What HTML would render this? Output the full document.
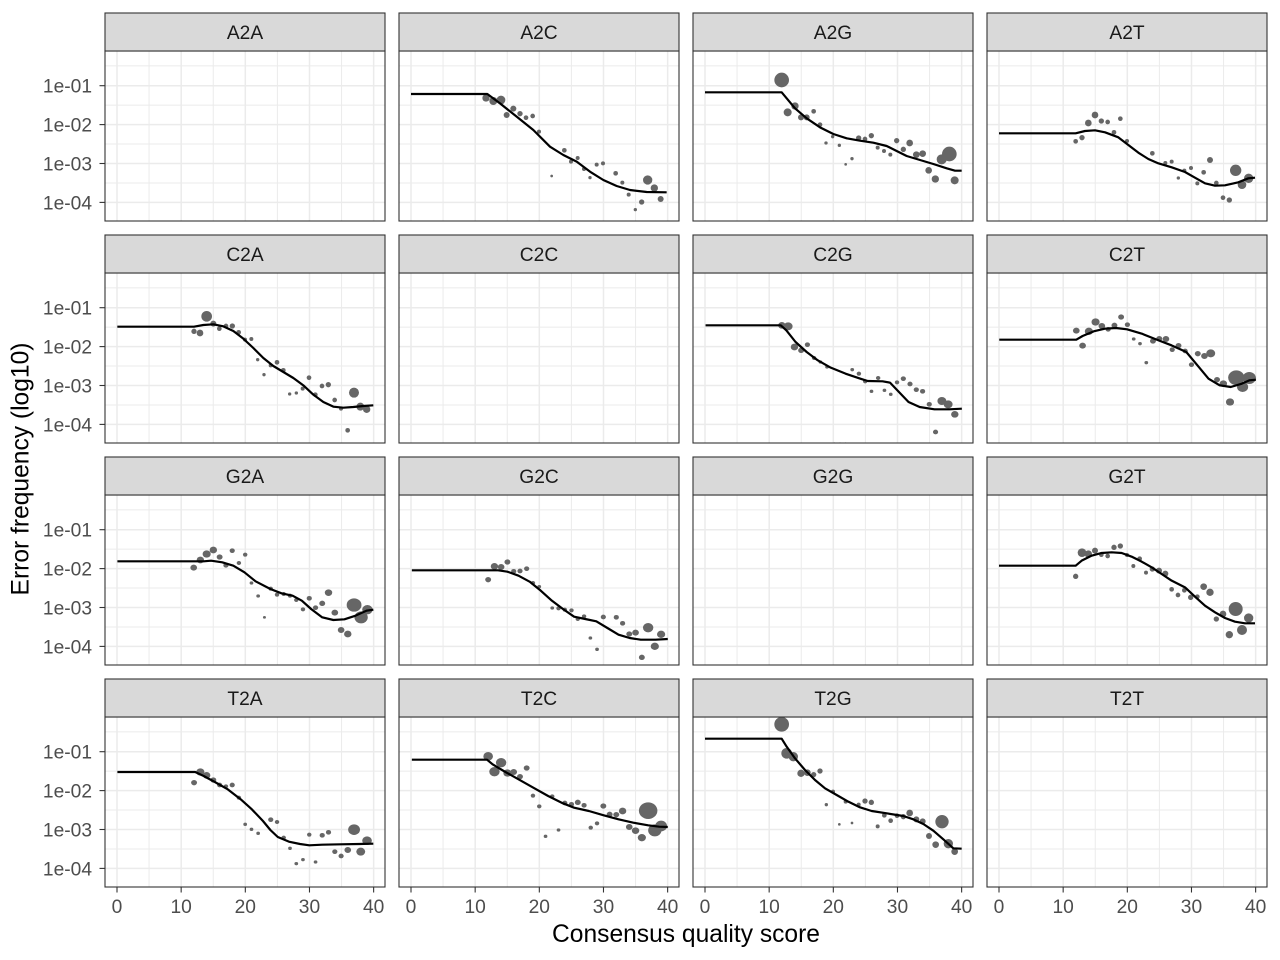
<!DOCTYPE html>
<html>
<head>
<meta charset="utf-8">
<style>
html,body{margin:0;padding:0;background:#fff;}
svg{display:block;}
text{font-family:"Liberation Sans",Arial,sans-serif;}
</style>
</head>
<body>
<svg width="1280" height="960" viewBox="0 0 1280 960" xmlns="http://www.w3.org/2000/svg">
<defs>
  <g id="grid">
    <rect x="0" y="0" width="280" height="170" fill="#fff"/>
    <g stroke="#EBEBEB" stroke-width="1.0">
      <line x1="44.08" y1="0" x2="44.08" y2="170"/>
      <line x1="108.24" y1="0" x2="108.24" y2="170"/>
      <line x1="172.4" y1="0" x2="172.4" y2="170"/>
      <line x1="236.56" y1="0" x2="236.56" y2="170"/>
      <line x1="0" y1="14.9" x2="280" y2="14.9"/>
      <line x1="0" y1="54.15" x2="280" y2="54.15"/>
      <line x1="0" y1="93.05" x2="280" y2="93.05"/>
      <line x1="0" y1="131.95" x2="280" y2="131.95"/>
    </g>
    <g stroke="#EBEBEB" stroke-width="1.5">
      <line x1="12" y1="0" x2="12" y2="170"/>
      <line x1="76.16" y1="0" x2="76.16" y2="170"/>
      <line x1="140.32" y1="0" x2="140.32" y2="170"/>
      <line x1="204.48" y1="0" x2="204.48" y2="170"/>
      <line x1="268.64" y1="0" x2="268.64" y2="170"/>
      <line x1="0" y1="34.7" x2="280" y2="34.7"/>
      <line x1="0" y1="73.6" x2="280" y2="73.6"/>
      <line x1="0" y1="112.5" x2="280" y2="112.5"/>
      <line x1="0" y1="151.4" x2="280" y2="151.4"/>
    </g>
  </g>
  <clipPath id="c01"><rect x="399" y="51" width="280" height="170"/></clipPath>
  <clipPath id="c02"><rect x="693" y="51" width="280" height="170"/></clipPath>
  <clipPath id="c03"><rect x="987" y="51" width="280" height="170"/></clipPath>
  <clipPath id="c10"><rect x="105" y="273" width="280" height="170"/></clipPath>
  <clipPath id="c12"><rect x="693" y="273" width="280" height="170"/></clipPath>
  <clipPath id="c13"><rect x="987" y="273" width="280" height="170"/></clipPath>
  <clipPath id="c20"><rect x="105" y="495" width="280" height="170"/></clipPath>
  <clipPath id="c21"><rect x="399" y="495" width="280" height="170"/></clipPath>
  <clipPath id="c23"><rect x="987" y="495" width="280" height="170"/></clipPath>
  <clipPath id="c30"><rect x="105" y="717" width="280" height="170"/></clipPath>
  <clipPath id="c31"><rect x="399" y="717" width="280" height="170"/></clipPath>
  <clipPath id="c32"><rect x="693" y="717" width="280" height="170"/></clipPath>
</defs>

<rect x="0" y="0" width="1280" height="960" fill="#fff"/>

<!-- panel grids -->
<use href="#grid" x="105" y="51"/><use href="#grid" x="399" y="51"/><use href="#grid" x="693" y="51"/><use href="#grid" x="987" y="51"/>
<use href="#grid" x="105" y="273"/><use href="#grid" x="399" y="273"/><use href="#grid" x="693" y="273"/><use href="#grid" x="987" y="273"/>
<use href="#grid" x="105" y="495"/><use href="#grid" x="399" y="495"/><use href="#grid" x="693" y="495"/><use href="#grid" x="987" y="495"/>
<use href="#grid" x="105" y="717"/><use href="#grid" x="399" y="717"/><use href="#grid" x="693" y="717"/><use href="#grid" x="987" y="717"/>

<!-- A2C -->
<g clip-path="url(#c01)"><g transform="translate(390,40) scale(0.33333)">
<g fill="#666">
<circle cx="288" cy="174" r="11"/><circle cx="310" cy="183" r="12"/><circle cx="333" cy="180" r="13"/><circle cx="350" cy="225" r="9"/><circle cx="370" cy="206" r="9"/><circle cx="390" cy="221" r="8"/><circle cx="408" cy="233" r="7"/><circle cx="428" cy="228" r="7"/><circle cx="447" cy="275" r="6"/><circle cx="485" cy="408" r="4"/><circle cx="523" cy="331" r="7"/><circle cx="543" cy="365" r="6"/><circle cx="563" cy="354" r="6"/><circle cx="582" cy="387" r="6"/><circle cx="600" cy="413" r="5"/><circle cx="620" cy="374" r="6"/><circle cx="639" cy="370" r="6"/><circle cx="677" cy="400" r="7"/><circle cx="697" cy="428" r="6"/><circle cx="716" cy="464" r="6"/><circle cx="736" cy="509" r="5"/><circle cx="755" cy="486" r="8"/><circle cx="773" cy="420" r="14"/><circle cx="793" cy="444" r="11"/><circle cx="812" cy="477" r="9"/>
<circle cx="465" cy="545" r="3"/><circle cx="505" cy="545" r="3"/>
</g>
<polyline fill="none" stroke="#000" stroke-width="2.2" vector-effect="non-scaling-stroke" stroke-linejoin="round" points="63,162 292,162 330,190 380,230 430,270 480,320 520,345 560,365 600,395 640,420 680,438 720,450 770,456 830,457"/>
</g></g>

<!-- A2G -->
<g clip-path="url(#c02)"><g transform="translate(680,40) scale(0.33333)">
<g fill="#666">
<circle cx="305" cy="120" r="22"/><circle cx="345" cy="198" r="11"/><circle cx="323" cy="217" r="12"/><circle cx="363" cy="232" r="9"/><circle cx="380" cy="232" r="9"/><circle cx="401" cy="214" r="7"/><circle cx="420" cy="254" r="7"/><circle cx="438" cy="309" r="5"/><circle cx="458" cy="290" r="5"/><circle cx="478" cy="316" r="5"/><circle cx="497" cy="373" r="4"/><circle cx="516" cy="356" r="5"/><circle cx="536" cy="294" r="8"/><circle cx="555" cy="297" r="7"/><circle cx="574" cy="287" r="8"/><circle cx="593" cy="323" r="6"/><circle cx="612" cy="333" r="6"/><circle cx="631" cy="344" r="6"/><circle cx="650" cy="302" r="8"/><circle cx="670" cy="328" r="8"/><circle cx="689" cy="309" r="10"/><circle cx="709" cy="344" r="10"/><circle cx="728" cy="341" r="10"/><circle cx="746" cy="391" r="10"/><circle cx="766" cy="417" r="11"/><circle cx="785" cy="358" r="15"/><circle cx="808" cy="342" r="22"/><circle cx="824" cy="421" r="12"/>
</g>
<polyline fill="none" stroke="#000" stroke-width="2.2" vector-effect="non-scaling-stroke" stroke-linejoin="round" points="75,157 305,157 320,175 345,205 380,235 420,262 460,282 500,295 540,302 580,308 620,318 650,333 680,348 720,360 760,372 800,385 825,392 845,392"/>
</g></g>

<!-- A2T -->
<g clip-path="url(#c03)"><g transform="translate(985,50) scale(0.33333)">
<g fill="#666">
<circle cx="272" cy="274" r="7"/><circle cx="291" cy="263" r="8"/><circle cx="310" cy="219" r="10"/><circle cx="330" cy="195" r="10"/><circle cx="349" cy="213" r="8"/><circle cx="368" cy="216" r="7"/><circle cx="387" cy="247" r="7"/><circle cx="406" cy="206" r="7"/><circle cx="426" cy="273" r="6"/><circle cx="502" cy="310" r="7"/><circle cx="541" cy="339" r="6"/><circle cx="560" cy="335" r="6"/><circle cx="580" cy="384" r="5"/><circle cx="598" cy="362" r="6"/><circle cx="618" cy="354" r="6"/><circle cx="637" cy="400" r="6"/><circle cx="656" cy="367" r="7"/><circle cx="675" cy="330" r="9"/><circle cx="694" cy="399" r="7"/><circle cx="714" cy="443" r="7"/><circle cx="733" cy="450" r="8"/><circle cx="752" cy="361" r="17"/><circle cx="771" cy="404" r="13"/><circle cx="791" cy="385" r="14"/>
<circle cx="447" cy="516" r="3"/><circle cx="462" cy="516" r="3"/><circle cx="477" cy="516" r="3"/>
</g>
<polyline fill="none" stroke="#000" stroke-width="2.2" vector-effect="non-scaling-stroke" stroke-linejoin="round" points="42,250 272,250 300,243 330,241 360,247 400,262 430,285 460,308 490,327 520,340 560,352 600,366 630,383 660,400 690,407 720,406 760,397 790,385 810,383"/>
</g></g>

<!-- C2A -->
<g clip-path="url(#c10)"><g transform="translate(100,272) scale(0.33333)">
<g fill="#666">
<circle cx="282" cy="178" r="8"/><circle cx="300" cy="183" r="10"/><circle cx="320" cy="133" r="16"/><circle cx="340" cy="155" r="9"/><circle cx="358" cy="170" r="7"/><circle cx="378" cy="162" r="7"/><circle cx="397" cy="162" r="8"/><circle cx="416" cy="181" r="7"/><circle cx="435" cy="203" r="6"/><circle cx="454" cy="201" r="6"/><circle cx="473" cy="263" r="5"/><circle cx="492" cy="308" r="5"/><circle cx="512" cy="280" r="6"/><circle cx="531" cy="271" r="7"/><circle cx="550" cy="295" r="7"/><circle cx="569" cy="366" r="5"/><circle cx="589" cy="363" r="5"/><circle cx="608" cy="350" r="6"/><circle cx="627" cy="317" r="7"/><circle cx="646" cy="368" r="7"/><circle cx="666" cy="342" r="7"/><circle cx="685" cy="338" r="8"/><circle cx="704" cy="384" r="7"/><circle cx="723" cy="410" r="6"/><circle cx="743" cy="475" r="7"/><circle cx="762" cy="362" r="15"/><circle cx="781" cy="404" r="12"/><circle cx="800" cy="412" r="11"/>
</g>
<polyline fill="none" stroke="#000" stroke-width="2.2" vector-effect="non-scaling-stroke" stroke-linejoin="round" points="52,164 282,164 310,159 340,157 370,163 400,177 430,200 460,228 490,258 520,282 550,300 580,318 610,340 640,368 670,390 700,404 730,407 760,405 790,402 820,400"/>
</g></g>

<!-- C2G -->
<g clip-path="url(#c12)"><g transform="translate(690,272) scale(0.37037,0.33333)">
<g fill="#666">
<circle cx="248" cy="160" r="10"/><circle cx="265" cy="163" r="12"/><circle cx="282" cy="225" r="10"/><circle cx="300" cy="235" r="8"/><circle cx="317" cy="218" r="7"/><circle cx="335" cy="258" r="6"/><circle cx="352" cy="270" r="5"/><circle cx="370" cy="285" r="5"/><circle cx="438" cy="293" r="5"/><circle cx="456" cy="305" r="6"/><circle cx="473" cy="328" r="6"/><circle cx="490" cy="358" r="5"/><circle cx="508" cy="318" r="6"/><circle cx="525" cy="355" r="5"/><circle cx="542" cy="367" r="5"/><circle cx="559" cy="331" r="6"/><circle cx="576" cy="320" r="7"/><circle cx="594" cy="336" r="7"/><circle cx="611" cy="353" r="7"/><circle cx="628" cy="358" r="7"/><circle cx="646" cy="397" r="7"/><circle cx="663" cy="480" r="7"/><circle cx="680" cy="387" r="12"/><circle cx="697" cy="397" r="12"/><circle cx="715" cy="427" r="10"/>
<circle cx="390" cy="514" r="3"/><circle cx="405" cy="514" r="3"/><circle cx="420" cy="514" r="3"/>
</g>
<polyline fill="none" stroke="#000" stroke-width="2.2" vector-effect="non-scaling-stroke" stroke-linejoin="round" points="42,160 245,160 260,175 285,210 315,240 345,265 380,287 420,305 460,320 480,327 520,328 540,332 560,355 590,390 620,405 660,412 700,412 734,410"/>
</g></g>

<!-- C2T -->
<g clip-path="url(#c13)"><g transform="translate(690,272) scale(0.37037,0.33333)">
<g fill="#666">
<circle cx="1043" cy="176" r="9"/><circle cx="1060" cy="221" r="9"/><circle cx="1077" cy="178" r="11"/><circle cx="1095" cy="150" r="11"/><circle cx="1112" cy="162" r="9"/><circle cx="1129" cy="172" r="7"/><circle cx="1146" cy="160" r="8"/><circle cx="1164" cy="135" r="8"/><circle cx="1181" cy="158" r="7"/><circle cx="1198" cy="201" r="5"/><circle cx="1215" cy="215" r="5"/><circle cx="1232" cy="272" r="5"/><circle cx="1250" cy="207" r="8"/><circle cx="1267" cy="200" r="8"/><circle cx="1285" cy="201" r="9"/><circle cx="1302" cy="233" r="7"/><circle cx="1319" cy="221" r="8"/><circle cx="1337" cy="237" r="7"/><circle cx="1354" cy="278" r="7"/><circle cx="1371" cy="245" r="8"/><circle cx="1389" cy="252" r="9"/><circle cx="1406" cy="244" r="12"/><circle cx="1423" cy="323" r="8"/><circle cx="1440" cy="335" r="10"/><circle cx="1458" cy="390" r="11"/><circle cx="1475" cy="317" r="22"/><circle cx="1492" cy="345" r="15"/><circle cx="1510" cy="318" r="18"/>
</g>
<polyline fill="none" stroke="#000" stroke-width="2.2" vector-effect="non-scaling-stroke" stroke-linejoin="round" points="835,203 1043,203 1060,192 1090,178 1120,170 1150,168 1180,172 1220,185 1260,203 1300,220 1340,240 1370,280 1400,320 1430,340 1460,345 1490,335 1510,325 1528,323"/>
</g></g>

<!-- G2A -->
<g clip-path="url(#c20)"><g transform="translate(100,494) scale(0.37037,0.33333)">
<g fill="#666">
<circle cx="253" cy="221" r="9"/><circle cx="271" cy="198" r="10"/><circle cx="288" cy="180" r="11"/><circle cx="306" cy="168" r="10"/><circle cx="323" cy="189" r="8"/><circle cx="340" cy="214" r="7"/><circle cx="357" cy="170" r="7"/><circle cx="375" cy="207" r="6"/><circle cx="392" cy="182" r="6"/><circle cx="409" cy="267" r="5"/><circle cx="427" cy="306" r="5"/><circle cx="444" cy="370" r="4"/><circle cx="461" cy="284" r="6"/><circle cx="478" cy="302" r="6"/><circle cx="496" cy="300" r="6"/><circle cx="513" cy="305" r="6"/><circle cx="530" cy="318" r="6"/><circle cx="548" cy="346" r="6"/><circle cx="565" cy="313" r="7"/><circle cx="582" cy="341" r="7"/><circle cx="600" cy="328" r="8"/><circle cx="617" cy="296" r="10"/><circle cx="634" cy="356" r="9"/><circle cx="651" cy="408" r="9"/><circle cx="669" cy="420" r="10"/><circle cx="686" cy="333" r="20"/><circle cx="705" cy="370" r="18"/><circle cx="722" cy="347" r="14"/>
</g>
<polyline fill="none" stroke="#000" stroke-width="2.2" vector-effect="non-scaling-stroke" stroke-linejoin="round" points="47,202 280,202 300,200 330,205 360,215 390,235 420,262 460,285 490,298 520,305 545,320 570,345 600,370 630,378 660,376 690,365 720,350 738,347"/>
</g></g>

<!-- G2C -->
<g clip-path="url(#c21)"><g transform="translate(100,494) scale(0.37037,0.33333)">
<g fill="#666">
<circle cx="1048" cy="257" r="8"/><circle cx="1065" cy="217" r="10"/><circle cx="1083" cy="219" r="9"/><circle cx="1100" cy="204" r="8"/><circle cx="1117" cy="232" r="7"/><circle cx="1134" cy="231" r="7"/><circle cx="1152" cy="224" r="7"/><circle cx="1169" cy="267" r="6"/><circle cx="1186" cy="278" r="5"/><circle cx="1221" cy="342" r="5"/><circle cx="1238" cy="343" r="6"/><circle cx="1255" cy="347" r="6"/><circle cx="1273" cy="349" r="6"/><circle cx="1290" cy="375" r="6"/><circle cx="1307" cy="367" r="6"/><circle cx="1324" cy="432" r="5"/><circle cx="1342" cy="466" r="5"/><circle cx="1359" cy="369" r="7"/><circle cx="1394" cy="370" r="7"/><circle cx="1411" cy="388" r="7"/><circle cx="1429" cy="420" r="8"/><circle cx="1446" cy="416" r="9"/><circle cx="1463" cy="490" r="8"/><circle cx="1480" cy="401" r="14"/><circle cx="1498" cy="457" r="11"/><circle cx="1515" cy="421" r="11"/>
<circle cx="1205" cy="515" r="3"/><circle cx="1238" cy="515" r="3"/>
</g>
<polyline fill="none" stroke="#000" stroke-width="2.2" vector-effect="non-scaling-stroke" stroke-linejoin="round" points="842,229 1075,229 1100,233 1130,245 1160,263 1190,290 1220,320 1250,345 1280,368 1310,375 1340,382 1370,402 1400,422 1430,432 1460,437 1500,437 1533,435"/>
</g></g>

<!-- G2T -->
<g clip-path="url(#c23)"><g transform="translate(985,494) scale(0.33333)">
<g fill="#666">
<circle cx="272" cy="247" r="8"/><circle cx="291" cy="176" r="13"/><circle cx="310" cy="180" r="11"/><circle cx="330" cy="170" r="9"/><circle cx="349" cy="182" r="7"/><circle cx="368" cy="186" r="7"/><circle cx="387" cy="160" r="8"/><circle cx="406" cy="156" r="8"/><circle cx="426" cy="183" r="6"/><circle cx="445" cy="216" r="6"/><circle cx="464" cy="194" r="7"/><circle cx="483" cy="236" r="6"/><circle cx="502" cy="225" r="8"/><circle cx="522" cy="230" r="9"/><circle cx="541" cy="239" r="9"/><circle cx="560" cy="286" r="7"/><circle cx="579" cy="303" r="7"/><circle cx="598" cy="289" r="7"/><circle cx="617" cy="310" r="8"/><circle cx="637" cy="308" r="7"/><circle cx="656" cy="278" r="10"/><circle cx="675" cy="295" r="11"/><circle cx="694" cy="375" r="8"/><circle cx="714" cy="360" r="10"/><circle cx="733" cy="422" r="11"/><circle cx="752" cy="345" r="21"/><circle cx="771" cy="408" r="15"/><circle cx="791" cy="372" r="14"/>
</g>
<polyline fill="none" stroke="#000" stroke-width="2.2" vector-effect="non-scaling-stroke" stroke-linejoin="round" points="42,215 272,215 290,200 320,185 350,177 380,175 410,177 440,188 470,203 500,220 530,240 560,260 600,280 630,308 660,335 690,355 720,372 750,383 780,388 810,388"/>
</g></g>

<!-- T2A -->
<g clip-path="url(#c30)"><g transform="translate(100,716) scale(0.37037,0.33333)">
<g fill="#666">
<circle cx="254" cy="200" r="8"/><circle cx="271" cy="168" r="11"/><circle cx="288" cy="178" r="10"/><circle cx="306" cy="192" r="8"/><circle cx="323" cy="207" r="7"/><circle cx="340" cy="211" r="6"/><circle cx="357" cy="207" r="7"/><circle cx="375" cy="245" r="6"/><circle cx="392" cy="325" r="5"/><circle cx="409" cy="340" r="5"/><circle cx="427" cy="352" r="5"/><circle cx="461" cy="311" r="7"/><circle cx="478" cy="318" r="6"/><circle cx="496" cy="365" r="6"/><circle cx="513" cy="397" r="5"/><circle cx="530" cy="443" r="5"/><circle cx="548" cy="431" r="5"/><circle cx="565" cy="356" r="6"/><circle cx="582" cy="438" r="5"/><circle cx="600" cy="358" r="7"/><circle cx="617" cy="349" r="7"/><circle cx="634" cy="407" r="7"/><circle cx="651" cy="420" r="7"/><circle cx="669" cy="402" r="9"/><circle cx="686" cy="341" r="16"/><circle cx="704" cy="407" r="12"/><circle cx="721" cy="374" r="13"/>
</g>
<polyline fill="none" stroke="#000" stroke-width="2.2" vector-effect="non-scaling-stroke" stroke-linejoin="round" points="47,168 257,168 280,180 310,198 345,220 380,250 410,280 440,315 460,342 480,363 510,377 540,384 565,388 600,386 650,385 700,384 738,383"/>
</g></g>

<!-- T2C -->
<g clip-path="url(#c31)"><g transform="translate(100,716) scale(0.37037,0.33333)">
<g fill="#666">
<circle cx="1048" cy="121" r="13"/><circle cx="1065" cy="167" r="14"/><circle cx="1083" cy="140" r="14"/><circle cx="1100" cy="171" r="11"/><circle cx="1117" cy="168" r="9"/><circle cx="1134" cy="182" r="8"/><circle cx="1152" cy="156" r="8"/><circle cx="1169" cy="239" r="6"/><circle cx="1186" cy="271" r="6"/><circle cx="1203" cy="361" r="5"/><circle cx="1221" cy="241" r="6"/><circle cx="1238" cy="342" r="5"/><circle cx="1255" cy="261" r="7"/><circle cx="1273" cy="265" r="7"/><circle cx="1290" cy="259" r="8"/><circle cx="1307" cy="268" r="7"/><circle cx="1325" cy="335" r="6"/><circle cx="1342" cy="322" r="6"/><circle cx="1359" cy="270" r="8"/><circle cx="1376" cy="295" r="8"/><circle cx="1394" cy="296" r="8"/><circle cx="1411" cy="285" r="10"/><circle cx="1429" cy="333" r="9"/><circle cx="1446" cy="344" r="10"/><circle cx="1463" cy="365" r="11"/><circle cx="1480" cy="284" r="25"/><circle cx="1498" cy="343" r="18"/><circle cx="1515" cy="330" r="16"/>
</g>
<polyline fill="none" stroke="#000" stroke-width="2.2" vector-effect="non-scaling-stroke" stroke-linejoin="round" points="842,131 1045,131 1060,145 1090,165 1130,190 1170,215 1210,240 1250,262 1280,275 1320,285 1360,298 1400,310 1440,320 1480,328 1510,332 1533,333"/>
</g></g>

<!-- T2G -->
<g clip-path="url(#c32)"><g transform="translate(690,700) scale(0.33333)">
<g fill="#666">
<circle cx="275" cy="73" r="22"/><circle cx="290" cy="160" r="16"/><circle cx="310" cy="170" r="14"/><circle cx="333" cy="220" r="11"/><circle cx="352" cy="218" r="10"/><circle cx="371" cy="224" r="8"/><circle cx="390" cy="213" r="8"/><circle cx="409" cy="314" r="5"/><circle cx="429" cy="275" r="6"/><circle cx="448" cy="373" r="4"/><circle cx="467" cy="305" r="6"/><circle cx="486" cy="369" r="4"/><circle cx="506" cy="314" r="6"/><circle cx="525" cy="303" r="8"/><circle cx="544" cy="307" r="8"/><circle cx="563" cy="379" r="6"/><circle cx="583" cy="346" r="7"/><circle cx="602" cy="362" r="7"/><circle cx="621" cy="347" r="7"/><circle cx="640" cy="350" r="8"/><circle cx="659" cy="339" r="10"/><circle cx="679" cy="358" r="9"/><circle cx="698" cy="364" r="9"/><circle cx="717" cy="408" r="9"/><circle cx="737" cy="434" r="10"/><circle cx="756" cy="365" r="20"/><circle cx="775" cy="431" r="14"/><circle cx="794" cy="455" r="10"/>
</g>
<polyline fill="none" stroke="#000" stroke-width="2.2" vector-effect="non-scaling-stroke" stroke-linejoin="round" points="45,116 275,116 290,140 315,175 345,210 375,240 405,265 440,285 475,305 510,322 545,333 590,340 640,348 670,358 700,372 730,392 760,418 790,445 815,446"/>
</g></g>

<!-- panel borders -->
<g fill="none" stroke="#333" stroke-width="1.1">
<rect x="105" y="51" width="280" height="170"/><rect x="399" y="51" width="280" height="170"/><rect x="693" y="51" width="280" height="170"/><rect x="987" y="51" width="280" height="170"/>
<rect x="105" y="273" width="280" height="170"/><rect x="399" y="273" width="280" height="170"/><rect x="693" y="273" width="280" height="170"/><rect x="987" y="273" width="280" height="170"/>
<rect x="105" y="495" width="280" height="170"/><rect x="399" y="495" width="280" height="170"/><rect x="693" y="495" width="280" height="170"/><rect x="987" y="495" width="280" height="170"/>
<rect x="105" y="717" width="280" height="170"/><rect x="399" y="717" width="280" height="170"/><rect x="693" y="717" width="280" height="170"/><rect x="987" y="717" width="280" height="170"/>
</g>

<!-- strips -->
<g fill="#D9D9D9" stroke="#333" stroke-width="1.1">
<rect x="105" y="13" width="280" height="38"/><rect x="399" y="13" width="280" height="38"/><rect x="693" y="13" width="280" height="38"/><rect x="987" y="13" width="280" height="38"/>
<rect x="105" y="235" width="280" height="38"/><rect x="399" y="235" width="280" height="38"/><rect x="693" y="235" width="280" height="38"/><rect x="987" y="235" width="280" height="38"/>
<rect x="105" y="457" width="280" height="38"/><rect x="399" y="457" width="280" height="38"/><rect x="693" y="457" width="280" height="38"/><rect x="987" y="457" width="280" height="38"/>
<rect x="105" y="679" width="280" height="38"/><rect x="399" y="679" width="280" height="38"/><rect x="693" y="679" width="280" height="38"/><rect x="987" y="679" width="280" height="38"/>
</g>
<g fill="#1A1A1A" font-size="19.2" text-anchor="middle">
<text x="245" y="39">A2A</text><text x="539" y="39">A2C</text><text x="833" y="39">A2G</text><text x="1127" y="39">A2T</text>
<text x="245" y="261">C2A</text><text x="539" y="261">C2C</text><text x="833" y="261">C2G</text><text x="1127" y="261">C2T</text>
<text x="245" y="483">G2A</text><text x="539" y="483">G2C</text><text x="833" y="483">G2G</text><text x="1127" y="483">G2T</text>
<text x="245" y="705">T2A</text><text x="539" y="705">T2C</text><text x="833" y="705">T2G</text><text x="1127" y="705">T2T</text>
</g>

<!-- y ticks -->
<g stroke="#333" stroke-width="1.1">
<line x1="99.5" y1="85.7" x2="105" y2="85.7"/><line x1="99.5" y1="124.6" x2="105" y2="124.6"/><line x1="99.5" y1="163.5" x2="105" y2="163.5"/><line x1="99.5" y1="202.4" x2="105" y2="202.4"/>
<line x1="99.5" y1="307.7" x2="105" y2="307.7"/><line x1="99.5" y1="346.6" x2="105" y2="346.6"/><line x1="99.5" y1="385.5" x2="105" y2="385.5"/><line x1="99.5" y1="424.4" x2="105" y2="424.4"/>
<line x1="99.5" y1="529.7" x2="105" y2="529.7"/><line x1="99.5" y1="568.6" x2="105" y2="568.6"/><line x1="99.5" y1="607.5" x2="105" y2="607.5"/><line x1="99.5" y1="646.4" x2="105" y2="646.4"/>
<line x1="99.5" y1="751.7" x2="105" y2="751.7"/><line x1="99.5" y1="790.6" x2="105" y2="790.6"/><line x1="99.5" y1="829.5" x2="105" y2="829.5"/><line x1="99.5" y1="868.4" x2="105" y2="868.4"/>
</g>
<g fill="#4D4D4D" font-size="19.2" text-anchor="end">
<text x="92" y="92.6">1e-01</text><text x="92" y="131.5">1e-02</text><text x="92" y="170.4">1e-03</text><text x="92" y="209.3">1e-04</text>
<text x="92" y="314.6">1e-01</text><text x="92" y="353.5">1e-02</text><text x="92" y="392.4">1e-03</text><text x="92" y="431.3">1e-04</text>
<text x="92" y="536.6">1e-01</text><text x="92" y="575.5">1e-02</text><text x="92" y="614.4">1e-03</text><text x="92" y="653.3">1e-04</text>
<text x="92" y="758.6">1e-01</text><text x="92" y="797.5">1e-02</text><text x="92" y="836.4">1e-03</text><text x="92" y="875.3">1e-04</text>
</g>

<!-- x ticks -->
<g stroke="#333" stroke-width="1.1">
<line x1="117" y1="887" x2="117" y2="892.5"/><line x1="181.16" y1="887" x2="181.16" y2="892.5"/><line x1="245.32" y1="887" x2="245.32" y2="892.5"/><line x1="309.48" y1="887" x2="309.48" y2="892.5"/><line x1="373.64" y1="887" x2="373.64" y2="892.5"/>
<line x1="411" y1="887" x2="411" y2="892.5"/><line x1="475.16" y1="887" x2="475.16" y2="892.5"/><line x1="539.32" y1="887" x2="539.32" y2="892.5"/><line x1="603.48" y1="887" x2="603.48" y2="892.5"/><line x1="667.64" y1="887" x2="667.64" y2="892.5"/>
<line x1="705" y1="887" x2="705" y2="892.5"/><line x1="769.16" y1="887" x2="769.16" y2="892.5"/><line x1="833.32" y1="887" x2="833.32" y2="892.5"/><line x1="897.48" y1="887" x2="897.48" y2="892.5"/><line x1="961.64" y1="887" x2="961.64" y2="892.5"/>
<line x1="999" y1="887" x2="999" y2="892.5"/><line x1="1063.16" y1="887" x2="1063.16" y2="892.5"/><line x1="1127.32" y1="887" x2="1127.32" y2="892.5"/><line x1="1191.48" y1="887" x2="1191.48" y2="892.5"/><line x1="1255.64" y1="887" x2="1255.64" y2="892.5"/>
</g>
<g fill="#4D4D4D" font-size="19.2" text-anchor="middle">
<text x="117" y="913">0</text><text x="181.16" y="913">10</text><text x="245.32" y="913">20</text><text x="309.48" y="913">30</text><text x="373.64" y="913">40</text>
<text x="411" y="913">0</text><text x="475.16" y="913">10</text><text x="539.32" y="913">20</text><text x="603.48" y="913">30</text><text x="667.64" y="913">40</text>
<text x="705" y="913">0</text><text x="769.16" y="913">10</text><text x="833.32" y="913">20</text><text x="897.48" y="913">30</text><text x="961.64" y="913">40</text>
<text x="999" y="913">0</text><text x="1063.16" y="913">10</text><text x="1127.32" y="913">20</text><text x="1191.48" y="913">30</text><text x="1255.64" y="913">40</text>
</g>

<!-- axis titles -->
<text x="686" y="942" font-size="24.6" fill="#000" text-anchor="middle">Consensus quality score</text>
<text transform="translate(28.5,469) rotate(-90)" font-size="24.6" fill="#000" text-anchor="middle">Error frequency (log10)</text>
</svg>
</body>
</html>
